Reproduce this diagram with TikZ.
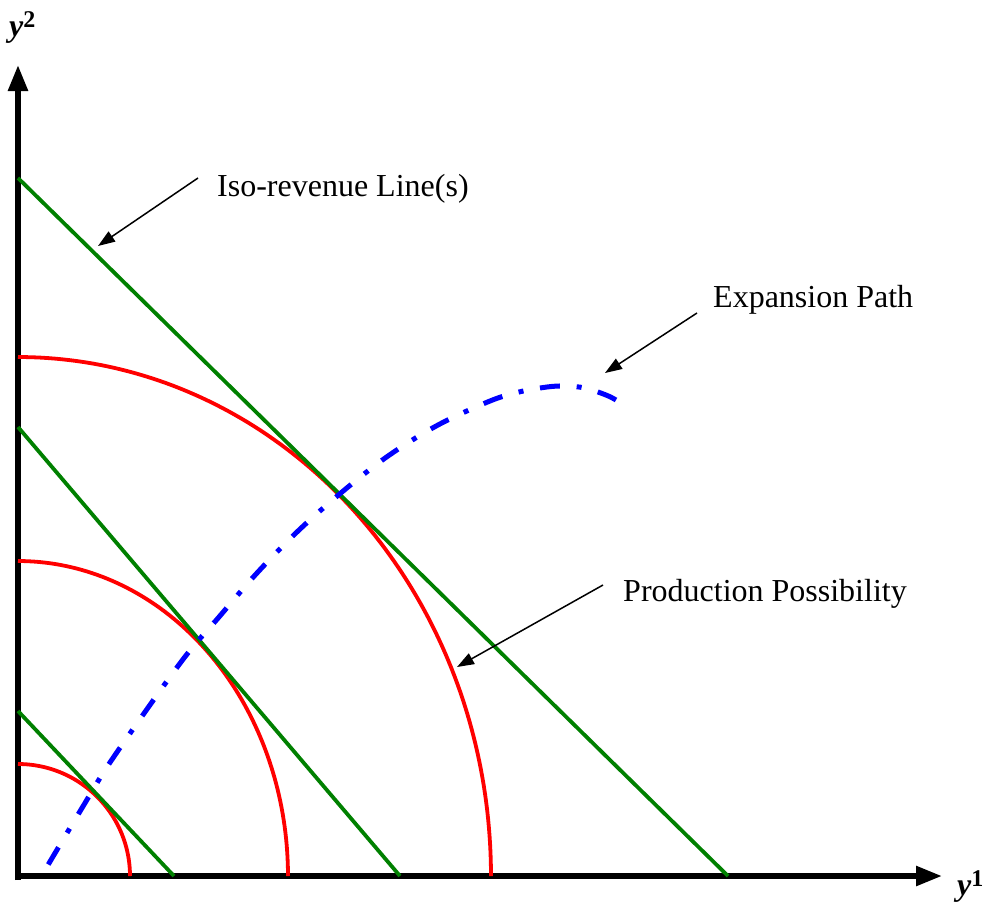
\documentclass[tikz,border=0pt]{standalone}
\usepackage{fontspec}
\setmainfont{Liberation Serif}
\usetikzlibrary{arrows.meta}
\definecolor{isogreen}{RGB}{0,128,0}
\definecolor{ppred}{RGB}{255,0,0}
\definecolor{expblue}{RGB}{0,0,255}
\begin{document}
\begin{tikzpicture}[x=1pt,y=-1pt,
  axisline/.style={line width=5.5pt,-{Triangle[length=26pt,width=19pt]}},
  isoline/.style={line width=3.8pt,isogreen},
  ppline/.style={line width=3.8pt,ppred},
  exppath/.style={line width=5pt,expblue,dash pattern=on 20pt off 16.8pt on 5pt off 16.8pt},
  note/.style={line width=1.5pt,-{Triangle[length=17pt,width=12pt]}},
  lbl/.style={inner sep=0pt,anchor=base west,font=\fontsize{32}{38}\selectfont},
  axlbl/.style={inner sep=0pt,anchor=base west,font=\fontsize{32}{32}\selectfont\bfseries\itshape}]
\useasboundingbox (0,0) rectangle (990,905);

% axes
\coordinate (O) at (18,876);
\coordinate (ybot) at (18,880);
\coordinate (ytop) at (18,65);
\coordinate (xleft) at (15,876);
\coordinate (xright) at (942,876);
\draw[axisline] (ybot) -- (ytop);
\draw[axisline] (xleft) -- (xright);

% production possibility frontiers
\draw[ppline] plot[domain=0:90,samples=80] ({18+112*cos(\x)},{876-112*sin(\x)});
\draw[ppline] plot[domain=0:90,samples=80] ({18+270*cos(\x)},{876-315*sin(\x)});
\draw[ppline] plot[domain=0:90,samples=100] ({18+473*cos(\x)},{876-519*sin(\x)});

% iso-revenue lines
\coordinate (g1a) at (18,711);  \coordinate (g1b) at (174,876);
\coordinate (g2a) at (18,427);  \coordinate (g2b) at (400,876);
\coordinate (g3a) at (18,178);  \coordinate (g3b) at (728,876);
\draw[isoline] (g1a) -- (g1b);
\draw[isoline] (g2a) -- (g2b);
\draw[isoline] (g3a) -- (g3b);

% expansion path (drawn from its upper end)
\draw[exppath] plot[smooth,tension=0.55] coordinates {(616,400) (606,395) (585,388) (565,386) (547,387) (519,392) (490,401) (438,425) (388,456) (342,492) (298,531) (257,573) (219,617) (181,662) (113,758) (82,808) (45,870)};

% labels
\node[lbl] (iso) at (217,196) {Iso-revenue Line(s)};
\node[lbl] (exp) at (713,307) {Expansion Path};
\node[lbl] (prod) at (623,601) {Production Possibility};
\node[axlbl] (ylab) at (9,36) {y\raisebox{9pt}{\fontsize{24}{24}\selectfont\upshape 2}};
\node[axlbl] (xlab) at (957,895) {y\raisebox{9pt}{\fontsize{24}{24}\selectfont\upshape 1}};

% annotation arrows
\coordinate (isoA) at (198,178);  \coordinate (isoB) at (98,246);
\coordinate (expA) at (697,313);  \coordinate (expB) at (605,373);
\coordinate (prodA) at (603,585); \coordinate (prodB) at (457,667);
\draw[note] (isoA) -- (isoB);
\draw[note] (expA) -- (expB);
\draw[note] (prodA) -- (prodB);
\end{tikzpicture}
\end{document}
